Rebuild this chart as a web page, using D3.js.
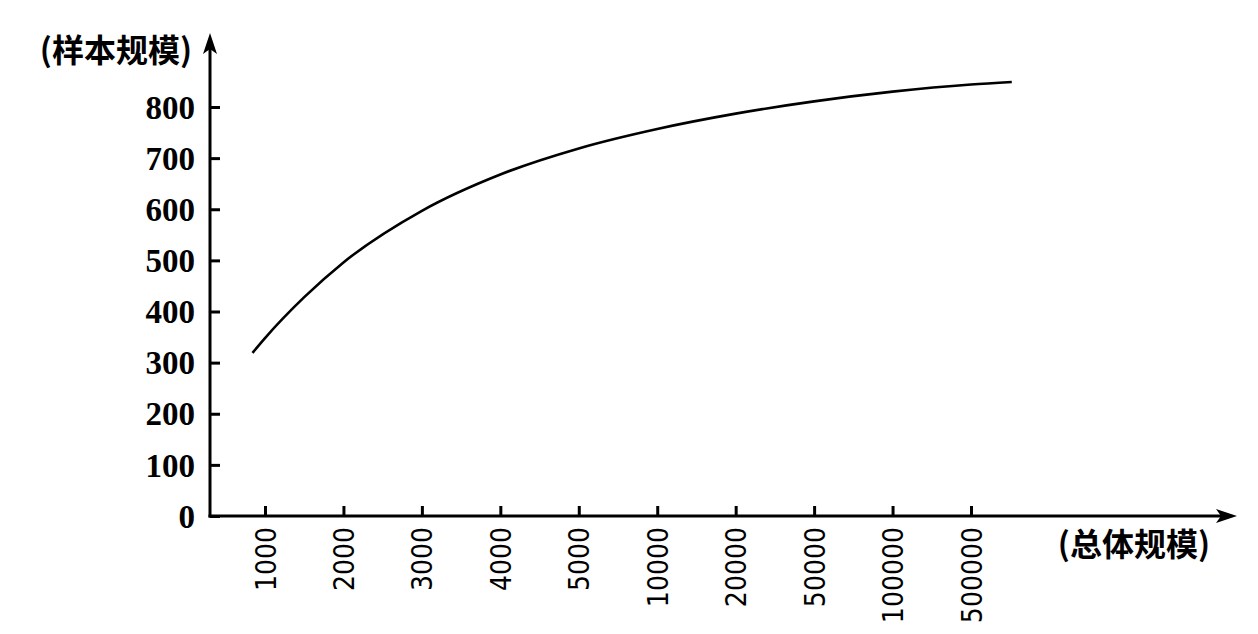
<!DOCTYPE html>
<html>
<head>
<meta charset="utf-8">
<script src="https://cdn.jsdelivr.net/npm/d3@7"></script>
<style>
  body { margin: 0; background: #fff; }
  .yax .tick text { font-family: "Liberation Serif", "DejaVu Serif", serif; font-weight: bold; }
  .xax .tick text { font-family: "DejaVu Sans Condensed", "DejaVu Sans", sans-serif; font-stretch: condensed; }
  .axlabel { font-family: "Noto Sans CJK SC", sans-serif; font-weight: bold; }
</style>
</head>
<body>
<svg id="chart" width="1258" height="634"></svg>
<script>
// population size categories (x axis, evenly spaced)
var categories = ["1000","2000","3000","4000","5000","10000","20000","50000","100000","500000"];
var yTicks = [0,100,200,300,400,500,600,700,800];
// curve points: position along category index, sample size
var curveIdx = [-0.16, 0, 0.5, 1, 2, 3, 4, 5, 6, 7, 8, 9, 9.52];
var curveVal = [319, 348, 428, 496, 597, 668, 719, 757, 787, 811, 830, 844, 849];

var svg = d3.select("#chart");
var x0 = 210, y0 = 516;

var x = d3.scaleLinear().domain([0, categories.length - 1]).range([265, 971]);
var y = d3.scaleLinear().domain([0, 800]).range([y0, 107]);

// axis lines
svg.append("line").attr("x1", x0).attr("y1", y0 + 1.5).attr("x2", x0).attr("y2", 48)
    .attr("stroke", "#000").attr("stroke-width", 3);
svg.append("line").attr("x1", x0 - 1.5).attr("y1", y0).attr("x2", 1222).attr("y2", y0)
    .attr("stroke", "#000").attr("stroke-width", 3);
// arrow heads
svg.append("path")
    .attr("d", "M" + x0 + ",33 L" + (x0 + 7) + ",54 L" + x0 + ",49 L" + (x0 - 7) + ",54 Z")
    .attr("fill", "#000");
svg.append("path")
    .attr("d", "M1237," + y0 + " L1216," + (y0 - 7) + " L1221," + y0 + " L1216," + (y0 + 7) + " Z")
    .attr("fill", "#000");

// y ticks (inside, pointing right)
var yAxis = d3.axisRight(y).tickValues(yTicks).tickSize(10).tickFormat(d3.format("d"));
var gy = svg.append("g").attr("class", "yax").attr("transform", "translate(" + x0 + ",0)").call(yAxis);
gy.select(".domain").remove();
gy.selectAll(".tick line").attr("stroke-width", 3);
gy.selectAll(".tick text")
    .attr("x", -15).attr("text-anchor", "end").attr("dy", "0.34em")
    .style("font-size", "33px");

// x ticks (inside, pointing up), labels rotated
var xAxis = d3.axisTop(x).tickValues(d3.range(categories.length)).tickSize(10)
    .tickFormat(function(i) { return categories[i]; });
var gx = svg.append("g").attr("class", "xax").attr("transform", "translate(0," + y0 + ")").call(xAxis);
gx.select(".domain").remove();
gx.selectAll(".tick line").attr("stroke-width", 3);
gx.selectAll(".tick text")
    .attr("transform", "rotate(-90)")
    .attr("x", -11).attr("y", 0).attr("dy", "0.36em")
    .attr("text-anchor", "end")
    .style("font-size", "28px");

// the curve
var line = d3.line()
    .curve(d3.curveMonotoneX)
    .x(function(d, i) { return x(curveIdx[i]); })
    .y(function(d) { return y(d); });
svg.append("path").datum(curveVal)
    .attr("d", line)
    .attr("fill", "none").attr("stroke", "#000").attr("stroke-width", 2.6);

// axis titles
svg.append("text").attr("class", "axlabel")
    .attr("x", 192).attr("y", 62).attr("text-anchor", "end")
    .style("font-size", "32px").text("(样本规模)");
svg.append("text").attr("class", "axlabel")
    .attr("x", 1210).attr("y", 556).attr("text-anchor", "end")
    .style("font-size", "32px").text("(总体规模)");
</script>
</body>
</html>
